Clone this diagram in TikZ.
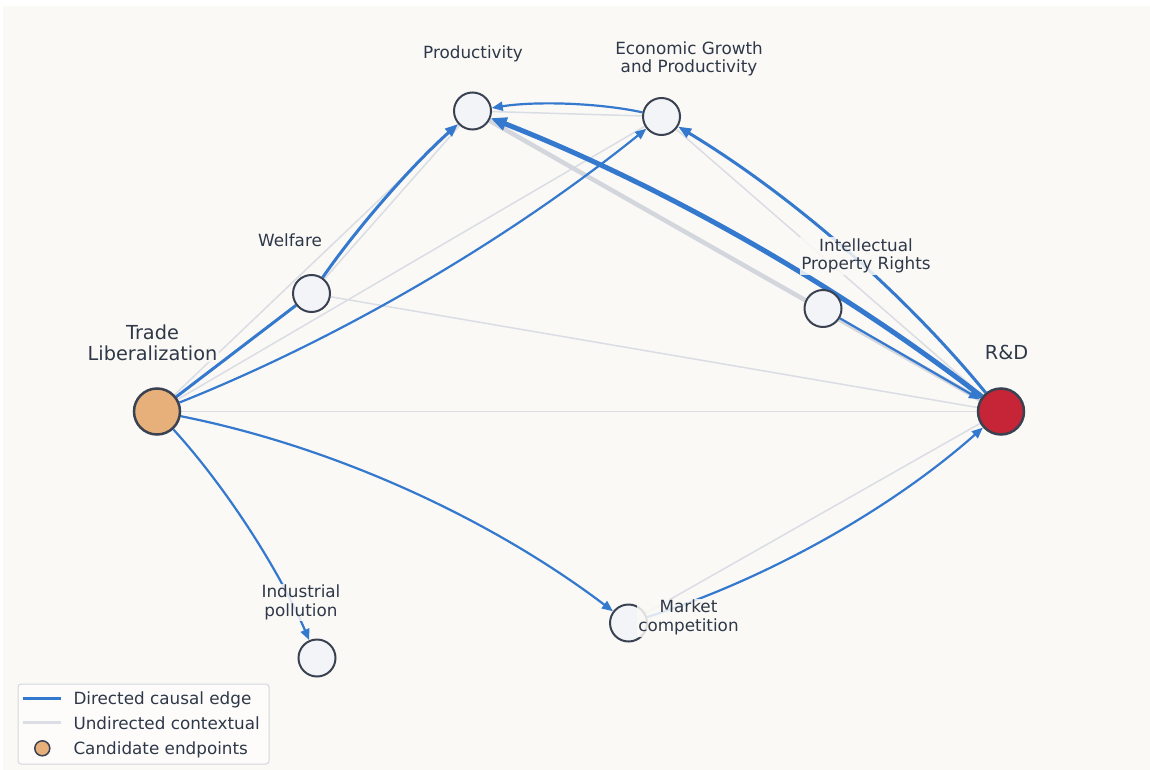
\documentclass[tikz,border=0pt]{standalone}
\usepackage{fontspec}
\setmainfont{DejaVu Sans}
\usetikzlibrary{arrows.meta}
\pgfdeclarelayer{canvas}
\pgfdeclarelayer{edges}
\pgfsetlayers{canvas,edges,main}

\definecolor{bg}{HTML}{FAF9F6}
\definecolor{edgeblue}{HTML}{3579CF}
\definecolor{ctxgray}{HTML}{DADDE3}
\definecolor{ctxgraydark}{HTML}{D3D6DD}
\definecolor{nodefill}{HTML}{F2F4F8}
\definecolor{nodeline}{HTML}{3A4252}
\definecolor{txt}{HTML}{2E3848}
\definecolor{tradefill}{HTML}{E7B07A}
\definecolor{rdfill}{HTML}{C62437}
\definecolor{legendline}{HTML}{D4D7DD}

\begin{document}
\begin{tikzpicture}[x=1pt,y=-1pt,
  var/.style={circle,draw=nodeline,fill=nodefill,line width=2pt,minimum size=37pt,inner sep=0pt},
  endpoint/.style={circle,draw=nodeline,line width=2.5pt,minimum size=46pt,inner sep=0pt},
  ctx/.style={draw=ctxgray,line width=1.5pt},
  ctxthick/.style={draw=ctxgraydark,line width=4.5pt},
  causeline/.style={draw=edgeblue,line width=2.2pt},
  cause/.style={causeline,-{Triangle[length=11pt,width=9pt]}},
  causemid/.style={causeline,line width=3pt,-{Triangle[length=13pt,width=10pt]}},
  causebig/.style={causeline,line width=5pt,-{Triangle[length=16pt,width=13pt]}},
  lbl/.style={text=txt,font=\fontsize{16.8}{18.7}\selectfont,align=center,
    fill=bg,fill opacity=0.85,text opacity=1,inner sep=1.5pt},
  lblbig/.style={lbl,font=\fontsize{19.3}{21}\selectfont},
  legtext/.style={text=txt,font=\fontsize{16.8}{18.7}\selectfont,anchor=base west,inner sep=0pt}
]
\useasboundingbox (0,0) rectangle (1150,770);
\begin{pgfonlayer}{canvas}
  \fill[bg] (3,6) rectangle (1150,770);
\end{pgfonlayer}

% variables
\node[var] (prod) at (472.5,111) {};
\node[var] (egp)  at (661.5,116.5) {};
\node[var] (welf) at (311.5,293.5) {};
\node[var] (ipr)  at (823,308.5) {};
\node[var] (mc)   at (628.5,623) {};
\node[var] (ip)   at (317,658) {};
\node[endpoint,fill=tradefill] (tl) at (157,411.5) {};
\node[endpoint,fill=rdfill]    (rd) at (1001,411.5) {};

\begin{pgfonlayer}{edges}
  % undirected context
  \draw[ctx] (tl) -- (prod);
  \draw[ctx] (tl) -- (egp);
  \draw[ctx] (tl) -- (rd);
  \draw[ctx] (welf) -- (prod);
  \draw[ctx] (welf) -- (rd);
  \draw[ctx] (prod) -- (egp);
  \draw[ctxthick] (prod) -- (rd);
  \draw[ctx] (egp) -- (rd);
  \draw[ctx] (mc) -- (rd);
  % directed causal links (arcs written as cubic curves)
  \draw[causeline,line width=3pt] (tl) -- (welf);
  \draw[causemid] (welf) .. controls (358.2,226.3) and (411.8,165.5) .. (prod);
  \draw[cause] (tl) .. controls (339.7,338.5) and (507.8,240.2) .. (egp);
  \draw[cause] (tl) .. controls (330.3,445.8) and (487.5,516.3) .. (mc);
  \draw[cause] (tl) .. controls (224.3,485.2) and (277.7,567.3) .. (ip);
  \draw[cause] (egp) .. controls (598.5,102.8) and (535.5,101) .. (prod);
  \draw[causebig] (rd) .. controls (839,285.8) and (662.8,185.7) .. (prod);
  \draw[causemid] (rd) .. controls (904.3,293.2) and (791.2,194.8) .. (egp);
  \draw[cause] (ipr) -- (rd);
  \draw[cause] (mc) .. controls (767.5,579) and (891.7,508.5) .. (rd);
\end{pgfonlayer}

% labels
\node[lbl,anchor=base] (prodlbl) at (473,58.3) {Productivity};
\node[lbl] (egplbl) at (689,59) {Economic Growth\\and Productivity};
\node[lbl,anchor=base] (welflbl) at (290,246) {Welfare};
\node[lbl] (iprlbl) at (866,256) {Intellectual\\Property Rights};
\node[lbl] (mclbl) at (688.5,617.6) {Market\\competition};
\node[lbl] (iplbl) at (301,602.5) {Industrial\\pollution};
\node[lblbig] (tllbl) at (152.5,342.5) {Trade\\Liberalization};
\node[lblbig,anchor=base] (rdlbl) at (1006.5,359.3) {R\&D};

% legend
\draw[legendline,line width=1pt,fill=white,fill opacity=0.6,rounded corners=3pt] (18,684) rectangle (269,764);
\coordinate (l1a) at (23,698.3);  \coordinate (l1b) at (61,698.3);
\coordinate (l2a) at (23,722.7);  \coordinate (l2b) at (61,722.7);
\draw[draw=edgeblue,line width=3pt] (l1a) -- (l1b);
\draw[draw=ctxgray,line width=3pt] (l2a) -- (l2b);
\node[circle,draw=nodeline,fill=tradefill,line width=1.5pt,minimum size=15pt,inner sep=0pt] (legdot) at (42.3,748.3) {};
\node[legtext] (leg1) at (73.3,704.3) {Directed causal edge};
\node[legtext] (leg2) at (73.3,729.5) {Undirected contextual};
\node[legtext] (leg3) at (73.3,754.3) {Candidate endpoints};
\end{tikzpicture}
\end{document}
